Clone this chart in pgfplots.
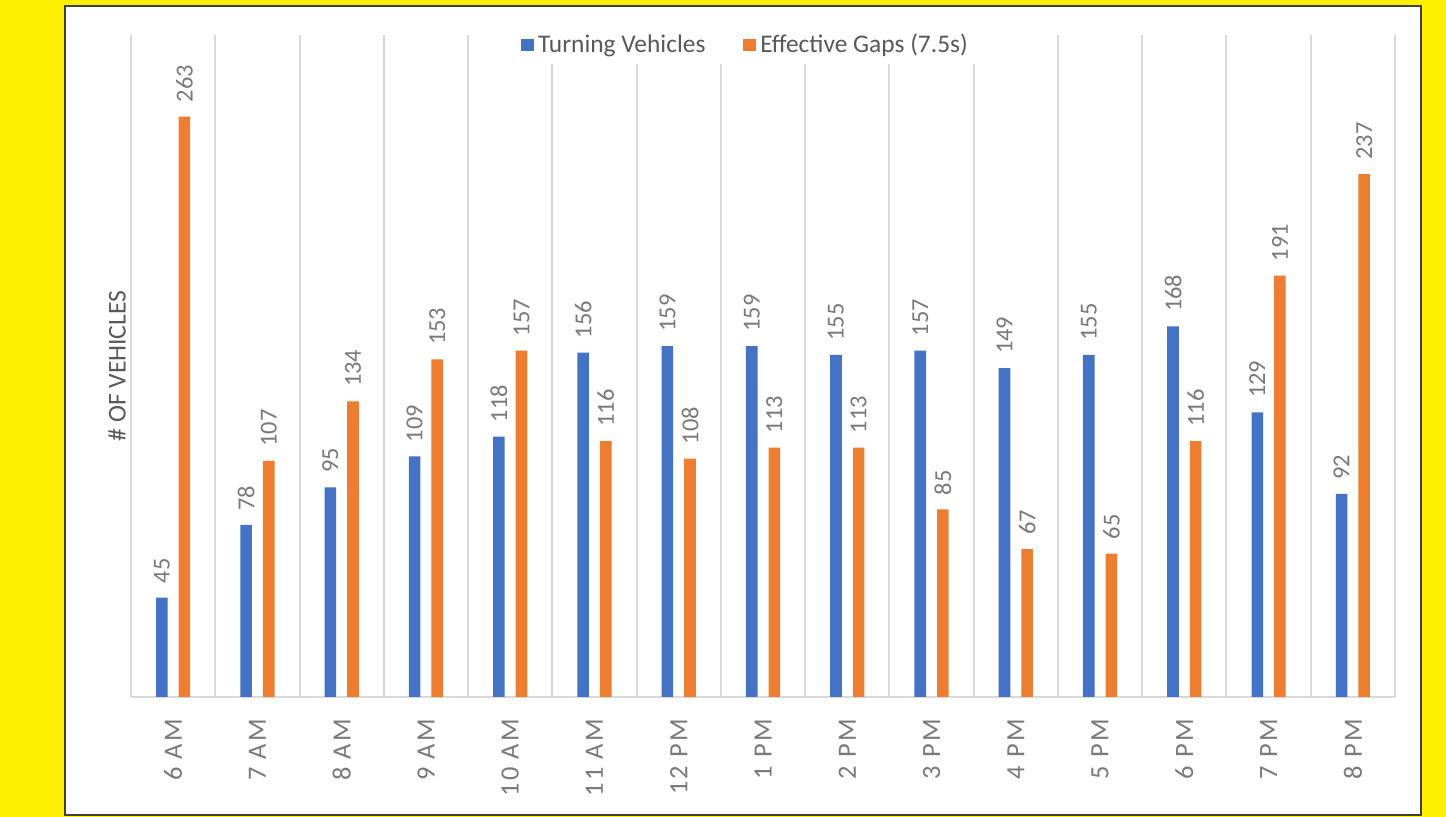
\documentclass[border=0pt]{standalone}
\usepackage{pgfplots}
\pgfplotsset{compat=1.18}
\usepackage{fontspec}
\setmainfont{Carlito}
\newfontfamily\tickfont[LetterSpace=8]{Carlito}
\definecolor{cblue}{HTML}{4472C4}
\definecolor{corange}{HTML}{ED7D31}
\definecolor{txt}{HTML}{595959}
\definecolor{lbl}{HTML}{7A7A7A}
\definecolor{grd}{HTML}{D9D9D9}
\definecolor{bgy}{HTML}{FFEF00}
\begin{document}
\begin{tikzpicture}
\path[use as bounding box, fill=bgy] (-65.5pt,-60pt) rectangle (657.5pt,348.5pt);
\filldraw[fill=white, draw=black!75, line width=1pt] (-33pt,-59pt) rectangle (645pt,345.5pt);
\begin{axis}[
  at={(0,0)}, anchor=south west,
  scale only axis, width=632pt, height=331pt,
  ybar=5.5pt, bar width=5.8pt,
  xmin=-0.5, xmax=14.5, ymin=0, ymax=300,
  enlargelimits=false,
  axis x line=bottom, axis y line=left,
  x axis line style={-, draw=grd, line width=1pt},
  y axis line style={draw=none},
  ytick=\empty,
  xtick={0,...,14},
  xticklabels={6 AM,7 AM,8 AM,9 AM,10 AM,11 AM,12 PM,1 PM,2 PM,3 PM,4 PM,5 PM,6 PM,7 PM,8 PM},
  major tick length=0pt, minor tick length=0pt,
  minor xtick={-0.5,0.5,...,14.5},
  xminorgrids=true,
  minor grid style={draw=grd, line width=1pt},
  xticklabel shift=6pt,
  xticklabel style={rotate=90, anchor=east, inner xsep=5pt, text=lbl, font=\tickfont\fontsize{13.2}{15}\selectfont},
  ylabel={\# OF VEHICLES},
  ylabel style={at={(axis description cs:-0.011,0.5)}, anchor=center, text=txt, font=\fontsize{12.8}{15}\selectfont},
  /pgf/number format/assume math mode=true,
  nodes near coords,
  nodes near coords style={rotate=90, anchor=west, inner xsep=7pt, inner ysep=1pt, text=lbl, font=\fontsize{12.2}{14}\selectfont},
  legend columns=2,
  legend style={at={(axis description cs:0.487,0.985)}, anchor=center, draw=none, fill=white,
    font=\fontsize{12.7}{15}\selectfont, text=txt,
    /tikz/every even column/.append style={column sep=17pt}},
  legend image code/.code={\fill[#1, draw=none] (0pt,-3.2pt) rectangle (6.4pt,3.2pt);},
]
\addplot[fill=cblue, draw=none] coordinates {
(0,45) (1,78) (2,95) (3,109) (4,118) (5,156) (6,159) (7,159) (8,155) (9,157) (10,149) (11,155) (12,168) (13,129) (14,92)};
\addplot[fill=corange, draw=none] coordinates {
(0,263) (1,107) (2,134) (3,153) (4,157) (5,116) (6,108) (7,113) (8,113) (9,85) (10,67) (11,65) (12,116) (13,191) (14,237)};
\legend{Turning Vehicles, Effective Gaps (7.5s)}
\end{axis}
\end{tikzpicture}
\end{document}
